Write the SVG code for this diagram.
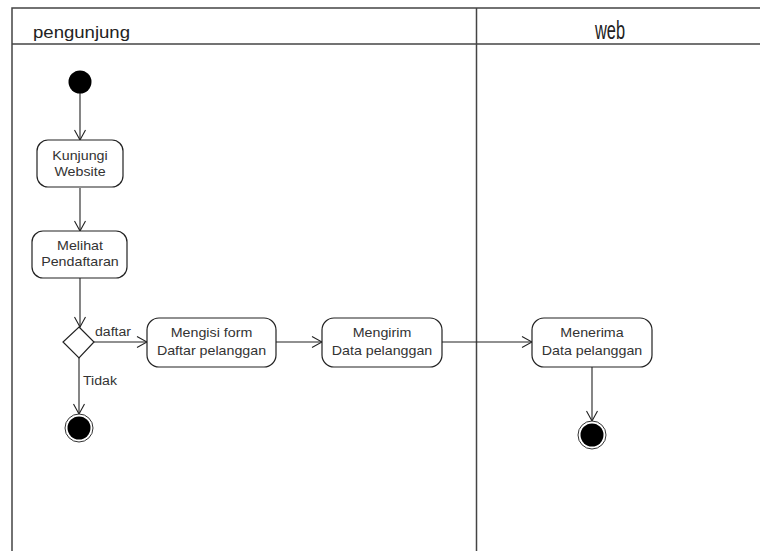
<svg xmlns="http://www.w3.org/2000/svg" width="760" height="551" viewBox="0 0 760 551">
  <defs>
    <marker id="open" viewBox="0 0 12 12" refX="11" refY="6" markerWidth="12" markerHeight="12" markerUnits="userSpaceOnUse" orient="auto">
      <path d="M1,0.5 L11,6 L1,11.5" fill="none" stroke="#222" stroke-width="1.1"/>
    </marker>
  </defs>
  <style>
    .lane { fill: none; stroke: #444; stroke-width: 1.5; }
    .act { fill: #fff; stroke: #222; stroke-width: 1.2; }
    .edge { fill: none; stroke: #222; stroke-width: 1.1; marker-end: url(#open); }
    .txt { font-family: "Liberation Sans", Arial, sans-serif; font-size: 12.5px; fill: #333; text-anchor: middle; }
    .lbl { font-family: "Liberation Sans", Arial, sans-serif; font-size: 12.5px; fill: #333; }
    .title { font-family: "Liberation Sans", Arial, sans-serif; font-size: 16px; fill: #222; }
  </style>
  <rect width="760" height="551" fill="#fff"/>

  <!-- swimlanes -->
  <g id="swimlanes">
    <path class="lane" d="M12,551 V8 H762"/>
    <line class="lane" x1="12" y1="44" x2="762" y2="44"/>
    <line class="lane" x1="476.5" y1="8" x2="476.5" y2="551"/>
    <text class="title" x="33" y="38" textLength="97" lengthAdjust="spacingAndGlyphs">pengunjung</text>
    <text class="title" x="595" y="39" style="font-size:25px" textLength="30" lengthAdjust="spacingAndGlyphs">web</text>
  </g>

  <!-- connectors -->
  <g id="connectors">
    <line class="edge" x1="80" y1="93" x2="80" y2="140"/>
    <line class="edge" x1="80" y1="188" x2="80" y2="231"/>
    <line class="edge" x1="80" y1="278" x2="80" y2="327"/>
    <line class="edge" x1="94" y1="342" x2="147" y2="342"/>
    <line class="edge" x1="79" y1="358" x2="79" y2="414"/>
    <line class="edge" x1="276" y1="342" x2="322" y2="342"/>
    <line class="edge" x1="442" y1="342" x2="532" y2="342"/>
    <line class="edge" x1="592" y1="367" x2="592" y2="421"/>
    <text class="lbl" x="95" y="336" textLength="36" lengthAdjust="spacingAndGlyphs">daftar</text>
    <text class="lbl" x="83" y="385" textLength="34" lengthAdjust="spacingAndGlyphs">Tidak</text>
  </g>

  <g id="start">
    <circle cx="80" cy="82" r="11.5" fill="#000"/>
  </g>

  <g id="kunjungi-website">
    <rect class="act" x="37" y="140" width="86" height="47" rx="11"/>
    <text class="txt" transform="translate(80,0) scale(1.14,1)" x="0" y="160">Kunjungi</text>
    <text class="txt" transform="translate(80,0) scale(1.14,1)" x="0" y="176">Website</text>
  </g>

  <g id="melihat-pendaftaran">
    <rect class="act" x="32" y="231" width="95" height="47" rx="11"/>
    <text class="txt" transform="translate(80,0) scale(1.14,1)" x="0" y="250">Melihat</text>
    <text class="txt" transform="translate(80,0) scale(1.14,1)" x="0" y="266">Pendaftaran</text>
  </g>

  <g id="decision">
    <path class="act" d="M79,327 L94,342 L79,358 L63,342 Z"/>
  </g>

  <g id="end-pengunjung">
    <circle cx="79" cy="428" r="14" fill="#fff" stroke="#333" stroke-width="1"/>
    <circle cx="79" cy="428" r="11.5" fill="#000"/>
  </g>

  <g id="mengisi-form">
    <rect class="act" x="147" y="318" width="129" height="49" rx="12"/>
    <text class="txt" transform="translate(211.5,0) scale(1.14,1)" x="0" y="337">Mengisi form</text>
    <text class="txt" transform="translate(211.5,0) scale(1.14,1)" x="0" y="355">Daftar pelanggan</text>
  </g>

  <g id="mengirim-data">
    <rect class="act" x="322" y="318" width="120" height="49" rx="12"/>
    <text class="txt" transform="translate(382,0) scale(1.14,1)" x="0" y="337">Mengirim</text>
    <text class="txt" transform="translate(382,0) scale(1.14,1)" x="0" y="355">Data pelanggan</text>
  </g>

  <g id="menerima-data">
    <rect class="act" x="532" y="318" width="120" height="49" rx="12"/>
    <text class="txt" transform="translate(592,0) scale(1.14,1)" x="0" y="337">Menerima</text>
    <text class="txt" transform="translate(592,0) scale(1.14,1)" x="0" y="355">Data pelanggan</text>
  </g>

  <g id="end-web">
    <circle cx="592" cy="435" r="14" fill="#fff" stroke="#333" stroke-width="1"/>
    <circle cx="592" cy="435" r="11.5" fill="#000"/>
  </g>
</svg>
